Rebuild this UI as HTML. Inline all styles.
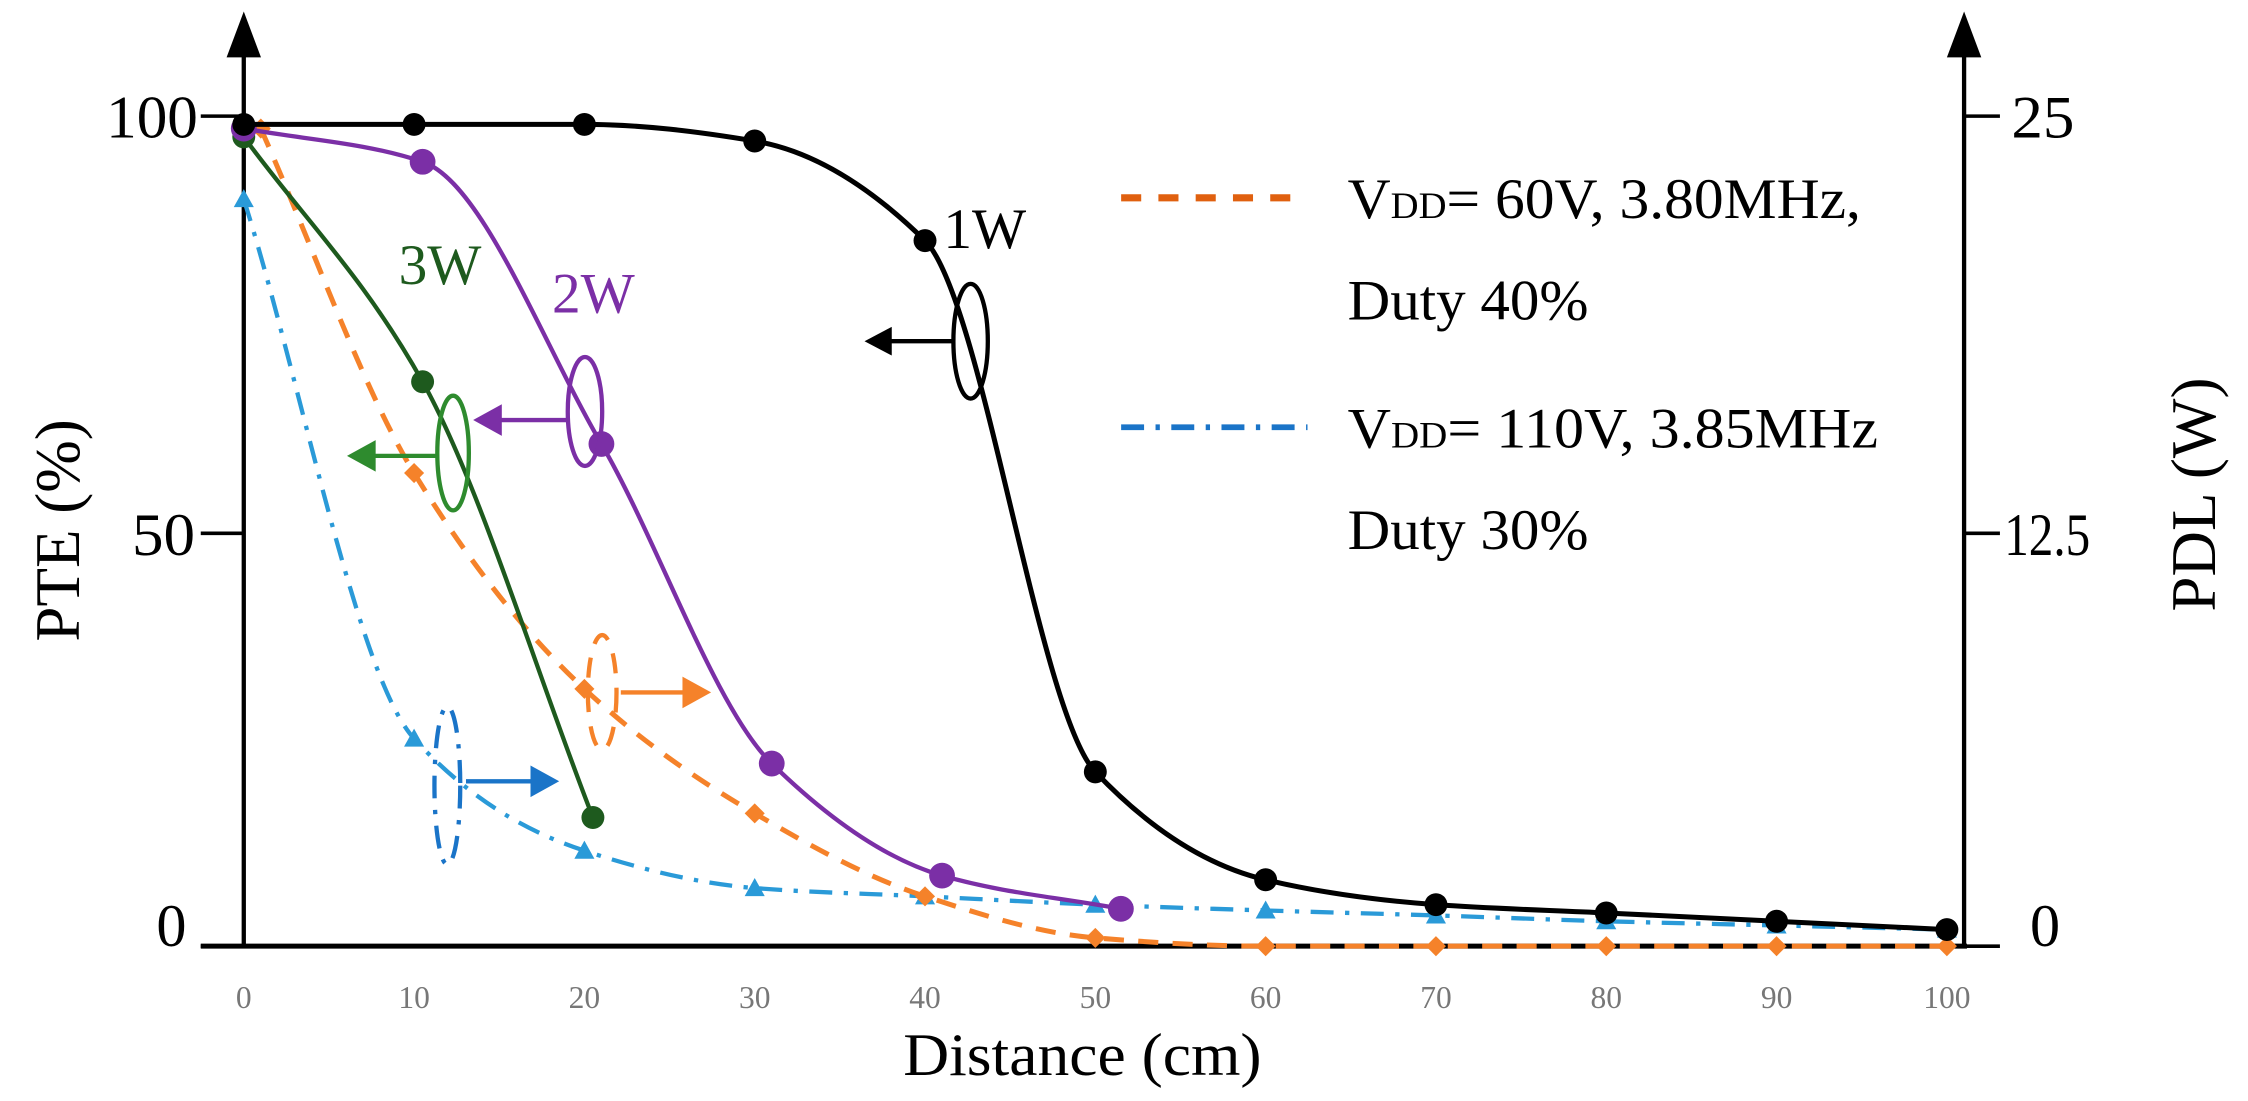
<!DOCTYPE html>
<html><head><meta charset="utf-8"><style>
html,body{margin:0;padding:0;background:#fff}
svg{display:block}
text{font-family:"Liberation Serif",serif}
</style></head><body>
<svg id="chart" width="2248" height="1101" viewBox="0 0 1568 768" xmlns="http://www.w3.org/2000/svg">
<g id="axes">
  <line x1="140" y1="660" x2="1372" y2="660" stroke="#000" stroke-width="3.5"/>
  <line x1="170" y1="660" x2="170" y2="30" stroke="#000" stroke-width="3"/>
  <polygon points="170,8 158,40 182,40" fill="#000"/>
  <line x1="1370" y1="660" x2="1370" y2="30" stroke="#000" stroke-width="3"/>
  <polygon points="1370,8 1358,40 1382,40" fill="#000"/>
  <line x1="140" y1="81" x2="170" y2="81" stroke="#000" stroke-width="2.5"/>
  <line x1="140" y1="372" x2="170" y2="372" stroke="#000" stroke-width="2.5"/>
  <line x1="140" y1="660" x2="170" y2="660" stroke="#000" stroke-width="2.5"/>
  <line x1="1370" y1="81" x2="1395" y2="81" stroke="#000" stroke-width="2.5"/>
  <line x1="1370" y1="372" x2="1395" y2="372" stroke="#000" stroke-width="2.5"/>
  <line x1="1370" y1="660" x2="1395" y2="660" stroke="#000" stroke-width="2.5"/>
  <text x="138" y="96" font-size="42" text-anchor="end" textLength="64" lengthAdjust="spacingAndGlyphs">100</text>
  <text x="136" y="387" font-size="42" text-anchor="end" textLength="44" lengthAdjust="spacingAndGlyphs">50</text>
  <text x="130" y="660" font-size="42" text-anchor="end">0</text>
  <text x="1403" y="96" font-size="42" textLength="44" lengthAdjust="spacingAndGlyphs">25</text>
  <text x="1398" y="387" font-size="42" textLength="60" lengthAdjust="spacingAndGlyphs">12.5</text>
  <text x="1416" y="660" font-size="42">0</text>
  <text transform="translate(55,370) rotate(-90)" font-size="44" text-anchor="middle">PTE (%)</text>
  <text transform="translate(1545,345) rotate(-90)" font-size="44" text-anchor="middle">PDL (W)</text>
  <text x="755" y="750" font-size="42" text-anchor="middle" textLength="250" lengthAdjust="spacingAndGlyphs">Distance (cm)</text>
  <g id="xticks"></g>
</g>
<g id="series"></g>
<g id="annotations">
  <text x="658" y="173" font-size="40">1W</text>
  <text x="385" y="218" font-size="40" fill="#7b2fa6">2W</text>
  <text x="278" y="198" font-size="40" fill="#1e5a1e">3W</text>
  <ellipse cx="677" cy="238" rx="12" ry="40" fill="none" stroke="#000" stroke-width="3"/>
  <line x1="665" y1="238" x2="620" y2="238" stroke="#000" stroke-width="3"/>
  <polygon points="603,238 622,228 622,248" fill="#000"/>
  <ellipse cx="408" cy="287" rx="12" ry="38" fill="none" stroke="#7b2fa6" stroke-width="3"/>
  <line x1="396" y1="293" x2="348" y2="293" stroke="#7b2fa6" stroke-width="3"/>
  <polygon points="330,293 350,282 350,304" fill="#7b2fa6"/>
  <ellipse cx="316" cy="316" rx="11" ry="40" fill="none" stroke="#2e8b2e" stroke-width="3"/>
  <line x1="305" y1="318" x2="260" y2="318" stroke="#2e8b2e" stroke-width="3"/>
  <polygon points="242,318 262,307 262,329" fill="#2e8b2e"/>
  <ellipse cx="420" cy="483" rx="10" ry="40" fill="none" stroke="#f5822a" stroke-width="3" stroke-dasharray="14,10"/>
  <line x1="433" y1="483" x2="478" y2="483" stroke="#f5822a" stroke-width="3"/>
  <polygon points="496,483 476,472 476,494" fill="#f5822a"/>
  <ellipse cx="312" cy="548" rx="9" ry="55" fill="none" stroke="#1a74c8" stroke-width="3" stroke-dasharray="16,8,3,8"/>
  <line x1="325" y1="545" x2="372" y2="545" stroke="#1a74c8" stroke-width="3"/>
  <polygon points="390,545 370,534 370,556" fill="#1a74c8"/>
</g>
<g id="legend">
  <line x1="782" y1="138" x2="912" y2="138" stroke="#e0600f" stroke-width="5" stroke-dasharray="14,12"/>
  <text x="940" y="152" font-size="40" textLength="358" lengthAdjust="spacingAndGlyphs">V<tspan font-size="26">DD</tspan>= 60V, 3.80MHz,</text>
  <text x="940" y="223" font-size="40" textLength="168" lengthAdjust="spacingAndGlyphs">Duty 40%</text>
  <line x1="782" y1="298" x2="912" y2="298" stroke="#1a74c8" stroke-width="4" stroke-dasharray="16,8,3,8"/>
  <text x="940" y="312" font-size="40" textLength="370" lengthAdjust="spacingAndGlyphs">V<tspan font-size="26">DD</tspan>= 110V, 3.85MHz</text>
  <text x="940" y="383" font-size="40" textLength="168" lengthAdjust="spacingAndGlyphs">Duty 30%</text>
</g>
</svg>
<script>
const xTickLabels = [0,10,20,30,40,50,60,70,80,90,100];
const x1W = [0,10,20,30,40,50,60,70,80,90,100];
const y1W = [99,99,99,97,85,21,8,5,4,3,2];
const x2W = [0,10.5,21,31,41,51.5];
const y2W = [98.5,94.5,60.5,22,8.5,4.5];
const x3W = [0,10.5,20.5];
const y3W = [97.5,68,15.5];
const xOrange = [1,10,20,30,40,50,60,70,80,90,100];
const yOrange = [98.5,57,31,16,6,1,0,0,0,0,0];
const xBlue = [0,10,20,30,40,50,60,70,80,90,100];
const yBlue = [90,25,11.5,7,6,5,4.3,3.7,3,2.5,2];

const NS = "http://www.w3.org/2000/svg";
function sx(v){ return 170 + v * 11.88; }
function sy(v){ return 660 - v * 5.79; }
function mk(tag, attrs, parent){
  const e = document.createElementNS(NS, tag);
  for (const k in attrs) e.setAttribute(k, attrs[k]);
  parent.appendChild(e);
  return e;
}
// monotone cubic (Fritsch-Carlson) in pixel space
function smoothPath(xs, ys){
  const X = xs.map(sx), Y = ys.map(sy), n = X.length;
  let d = "M" + X[0] + "," + Y[0];
  if (n < 2) return d;
  const dx = [], m = [];
  for (let i=0;i<n-1;i++){ dx.push(X[i+1]-X[i]); m.push((Y[i+1]-Y[i])/dx[i]); }
  const t = new Array(n);
  t[0] = m[0]; t[n-1] = m[n-2];
  for (let i=1;i<n-1;i++){
    if (m[i-1]*m[i] <= 0) t[i] = 0;
    else { const w1 = 2*dx[i]+dx[i-1], w2 = dx[i]+2*dx[i-1]; t[i] = (w1+w2)/(w1/m[i-1]+w2/m[i]); }
  }
  for (let i=0;i<n-1;i++){
    const h = dx[i]/3;
    d += " C"+(X[i]+h)+","+(Y[i]+t[i]*h)+" "+(X[i+1]-h)+","+(Y[i+1]-t[i+1]*h)+" "+X[i+1]+","+Y[i+1];
  }
  return d;
}
const xt = document.getElementById('xticks');
xTickLabels.forEach(v=>{
  const t = mk('text',{x:sx(v), y:703, 'font-size':22, fill:'#777', 'text-anchor':'middle'}, xt);
  
  
  t.textContent = v;
});
const g = document.getElementById('series');
function series(name, xs, ys, color, width, dash, marker, r){
  const grp = mk('g', {}, g);
  
  
  const path = mk('path', {d: smoothPath(xs, ys), fill:'none', stroke:color, 'stroke-width':width}, grp);
  if (dash) path.setAttribute('stroke-dasharray', dash);
  
  
  xs.forEach((x,i)=>{
    const cx = sx(x), cy = sy(ys[i]);
    let m;
    if (marker === 'circle') m = mk('circle', {cx:cx, cy:cy, r:r, fill:color}, grp);
    else if (marker === 'diamond') m = mk('polygon', {points:`${cx},${cy-r} ${cx+r},${cy} ${cx},${cy+r} ${cx-r},${cy}`, fill:color}, grp);
    else m = mk('polygon', {points:`${cx},${cy-r} ${cx+r},${cy+r*0.8} ${cx-r},${cy+r*0.8}`, fill:color}, grp);
    
    
  });
}
series('series-blue-110v', xBlue, yBlue, '#2a9ad8', 3, '16,8,3,8', 'triangle', 7);
series('series-orange-60v', xOrange, yOrange, '#f5822a', 3.5, '14,10', 'diamond', 7);
series('series-3w', x3W, y3W, '#1e5a1e', 3, null, 'circle', 8);
series('series-2w', x2W, y2W, '#7b2fa6', 3, null, 'circle', 9);
series('series-1w', x1W, y1W, '#000', 3.5, null, 'circle', 8);
</script>
</body></html>
